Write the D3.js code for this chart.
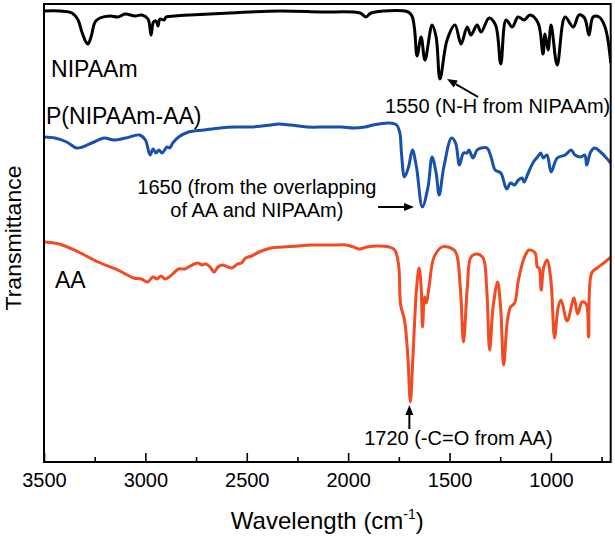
<!DOCTYPE html>
<html><head><meta charset="utf-8">
<script src="https://cdn.jsdelivr.net/npm/d3@7"></script>
<style>body{margin:0;background:#fff}svg{display:block}</style>
</head><body><svg id="c" width="615" height="539"></svg>
<script>
// ---- data (wavenumber in cm-1, transmittance in arbitrary offset units) ----
const nipaamWn=[3500,3421,3362,3332,3313,3293,3283,3268,3248,3224,3174,3135,3100,3051,3017,2987,2972,2960,2947,2938,2928,2908,2898,2854,2780,2582,2336,2138,1941,1912,1887,1704,1685,1672,1660,1640,1621,1586,1566,1547,1512,1473,1443,1413,1394,1364,1344,1305,1273,1247,1221,1191,1162,1132,1103,1063,1039,1029,1014,999,969,930,890,861,834,812,792,762,733,705];
const nipaamT=[451,451,449,442,430,420,418,425,440,444,446,445,448,446,447,443,427,440,441,436,443,442,445,446,447,449,451,450,449,445,449,450,446,432,406,425,402,437,425,383,422,437,418,435,427,437,430,444,437,398,442,435,445,442,447,439,408,428,412,437,397,445,435,447,444,427,445,445,435,400];

const copolyWn=[3500,3446,3388,3339,3310,3253,3204,3155,3097,3029,3000,2977,2962,2948,2933,2918,2893,2880,2865,2836,2787,2711,2632,2555,2479,2380,2342,2284,2203,2109,2031,1973,1917,1877,1798,1761,1745,1737,1722,1702,1683,1663,1634,1606,1586,1566,1551,1528,1490,1470,1451,1431,1413,1404,1384,1364,1344,1315,1295,1275,1247,1218,1199,1180,1160,1142,1132,1112,1086,1066,1050,1038,1019,999,969,930,900,881,852,833,823,804,784,755,726,705];
const copolyT=[325,324,320,314,315,320,324,322,324,327,322,307,313,309,312,309,315,314,319,325,330,332,334,335,335,337,338,337,335,335,335,334,335,337,339,337,329,309,285,295,312,295,255,275,305,289,267,295,324,319,297,309,309,312,304,312,314,314,305,292,289,273,279,277,282,284,280,289,300,305,309,304,307,290,304,307,312,307,305,307,297,310,314,310,304,299];

const aaWn=[3500,3426,3329,3234,3136,3058,3020,2990,2962,2943,2923,2903,2883,2855,2836,2806,2787,2758,2739,2721,2701,2681,2661,2642,2622,2592,2573,2545,2526,2506,2476,2439,2380,2322,2245,2188,2129,2070,2012,1973,1946,1907,1857,1799,1770,1751,1741,1722,1706,1693,1680,1662,1650,1640,1633,1623,1614,1601,1576,1537,1507,1470,1447,1431,1412,1394,1364,1334,1317,1302,1285,1263,1248,1233,1214,1199,1179,1160,1132,1108,1078,1067,1058,1048,1036,1019,1000,982,964,950,920,886,868,846,826,814,799,772,733,705];
const aaT=[220,218,210,200,192,184,183,180,185,183,186,183,185,190,193,193,195,198,199,197,198,195,190,195,197,195,194,198,199,204,206,210,214,215,216,217,217,217,217,215,213,215,216,215,212,197,157,142,107,60,107,175,194,175,135,165,159,175,205,215,215,210,175,120,175,205,208,204,175,112,155,180,155,97,142,155,159,182,204,212,209,195,194,172,194,202,182,124,155,162,141,164,148,160,158,125,189,194,200,205];

const seriesNames=["NIPAAm","P(NIPAAm-AA)","AA"];
const seriesColors=["#000000","#1750ae","#f24a22"];

const majorTicks=[3500,3000,2500,2000,1500,1000];
const minorTicks=[3250,2750,2250,1750,1250,750];
const xDomain=[3500,705];
const yDomain=[0,458];

// annotation text/arrow anchors in data units
const labelWn=[3465,3490,3446];
const labelT=[385,338,174];
const noteTexts=["1550 (N-H from NIPAAm)","1650 (from the overlapping","of AA and NIPAAm)","1720 (-C=O from AA)"];
const noteWn=[1818,2450,2450,1921];
const noteT=[349,268,245,17];
const noteAnchor=["start","middle","middle","start"];
const arrowFromWn=[1359,1852,1698], arrowFromT=[365,255,33];
const arrowToWn=[1512,1675,1698], arrowToT=[383,255,57];

// ---- drawing ----
const W=615,H=539;
const margin={left:44,right:4.3,top:4,bottom:77};
const FONT='"Liberation Sans", Arial, Helvetica, sans-serif';
const svg=d3.select("#c");
const x=d3.scaleLinear().domain(xDomain).range([margin.left,W-margin.right]);
const y=d3.scaleLinear().domain(yDomain).range([H-margin.bottom,margin.top]);

svg.append("defs").append("clipPath").attr("id","clip").append("rect")
  .attr("x",x(xDomain[0])).attr("y",y(yDomain[1]))
  .attr("width",x(xDomain[1])-x(xDomain[0])).attr("height",y(yDomain[0])-y(yDomain[1]));

const line=d3.line().x(d=>x(d[0])).y(d=>y(d[1])).curve(d3.curveCatmullRom.alpha(0.5));
const series=[[nipaamWn,nipaamT],[copolyWn,copolyT],[aaWn,aaT]];
const gLines=svg.append("g").attr("clip-path","url(#clip)");
series.forEach((s,i)=>{
  const pts=s[0].map((w,j)=>[w,s[1][j]]);
  gLines.append("path").attr("d",line(pts)).attr("fill","none")
    .attr("stroke",seriesColors[i]).attr("stroke-width",3)
    .attr("stroke-linejoin","round").attr("stroke-linecap","round");
});

// axes
const gx=svg.append("g").attr("transform",`translate(0,${y(0)})`);
gx.call(d3.axisBottom(x).tickValues(majorTicks).tickSizeInner(-9).tickSizeOuter(0).tickPadding(11).tickFormat(d3.format("d")));
const gm=svg.append("g").attr("transform",`translate(0,${y(0)})`);
gm.call(d3.axisBottom(x).tickValues(minorTicks).tickSizeInner(-5).tickSizeOuter(0).tickFormat(()=>""));
[gx,gm].forEach(g=>{
  g.select(".domain").remove();
  g.selectAll("line").attr("stroke","#000").attr("stroke-width",1.6);
});
gx.selectAll("text").attr("font-family",FONT).attr("font-size",20).attr("fill","#000");

// frame
svg.append("rect").attr("x",x(xDomain[0])).attr("y",y(yDomain[1]))
  .attr("width",x(xDomain[1])-x(xDomain[0])).attr("height",y(yDomain[0])-y(yDomain[1]))
  .attr("fill","none").attr("stroke","#000").attr("stroke-width",2);

// axis titles
const xt=svg.append("text").attr("x",(x(xDomain[0])+x(xDomain[1]))/2).attr("y",529)
  .attr("text-anchor","middle").attr("font-family",FONT).attr("font-size",24).attr("fill","#000");
xt.append("tspan").text("Wavelength (cm");
xt.append("tspan").attr("font-size",14).attr("dy",-10).text("-1");
xt.append("tspan").attr("dy",10).text(")");
svg.append("text").attr("transform",`translate(21,238) rotate(-90)`)
  .attr("text-anchor","middle").attr("font-family",FONT).attr("font-size",21.5)
  .attr("textLength",145).attr("lengthAdjust","spacingAndGlyphs").attr("fill","#000")
  .text("Transmittance");

// series labels
seriesNames.forEach((n,i)=>{
  svg.append("text").attr("x",x(labelWn[i])).attr("y",y(labelT[i]))
    .attr("font-family",FONT).attr("font-size",23).attr("fill","#000").text(n);
});
// notes
noteTexts.forEach((t,i)=>{
  svg.append("text").attr("x",x(noteWn[i])).attr("y",y(noteT[i])).attr("text-anchor",noteAnchor[i])
    .attr("font-family",FONT).attr("font-size",20).attr("fill","#000").text(t);
});
// arrows
arrowFromWn.forEach((w,i)=>{
  const x0=x(w),y0=y(arrowFromT[i]),x1=x(arrowToWn[i]),y1=y(arrowToT[i]);
  const ang=Math.atan2(y1-y0,x1-x0), L=10, Wd=4;
  const bx=x1-L*Math.cos(ang), by=y1-L*Math.sin(ang);
  svg.append("line").attr("x1",x0).attr("y1",y0).attr("x2",bx).attr("y2",by)
    .attr("stroke","#000").attr("stroke-width",2);
  const px=-Math.sin(ang)*Wd, py=Math.cos(ang)*Wd;
  svg.append("path").attr("d",`M${x1},${y1}L${bx+px},${by+py}L${bx-px},${by-py}Z`).attr("fill","#000");
});
</script></body></html>
